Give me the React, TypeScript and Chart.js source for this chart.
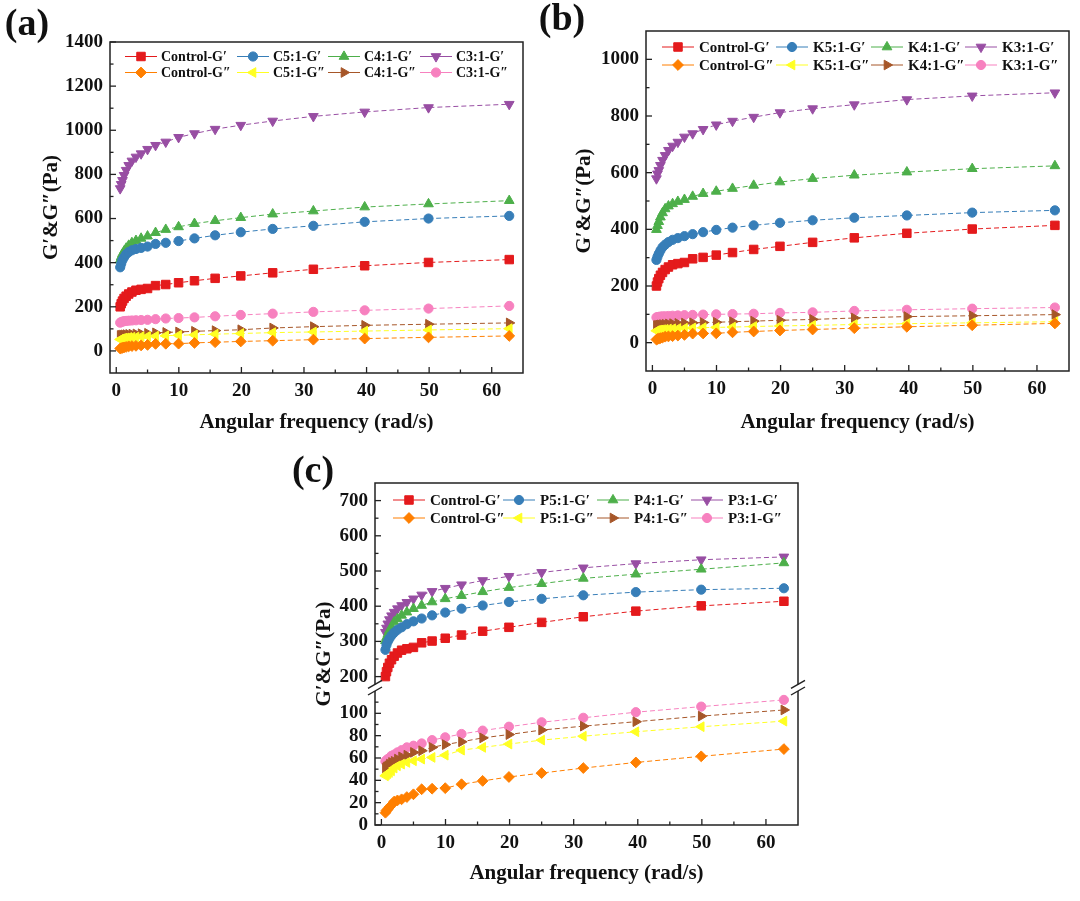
import React, { useEffect, useRef } from 'react';
import { Chart, registerables } from 'chart.js';

Chart.register(...registerables);

// ---------------- data ----------------
const FREQ = [0.628, 0.791, 0.996, 1.25, 1.58, 1.99, 2.5, 3.15, 3.97, 5.0, 6.28, 7.91, 9.96, 12.5, 15.8, 19.9, 25.0, 31.5, 39.7, 49.9, 62.8];

const X_TICKS = [0, 10, 20, 30, 40, 50, 60];
const A_Y_TICKS = [0, 200, 400, 600, 800, 1000, 1200, 1400];
const B_Y_TICKS = [0, 200, 400, 600, 800, 1000];
const C_HI_TICKS = [200, 300, 400, 500, 600, 700];
const C_LO_TICKS = [0, 20, 40, 60, 80, 100];

const CONTROL_GP = [200, 214, 226, 238, 248, 258, 267, 275, 279, 283, 296, 301, 309, 318, 329, 340, 354, 370, 386, 401, 414];
const CONTROL_GPP = [11, 13, 14, 16, 18, 21, 22, 23, 25, 27.5, 32, 32.5, 33, 36.5, 39.5, 43, 46.5, 51, 56, 61.5, 68];

const C5_GP = [379, 395, 412, 425, 438, 448, 456, 462, 467, 473, 485, 490, 498, 510, 524, 538, 553, 567, 585, 600, 612];
const C4_GP = [412, 426, 440, 452, 465, 478, 490, 500, 510, 520, 536, 550, 562, 577, 590, 604, 620, 634, 652, 666, 681];
const C3_GP = [736, 755, 773, 796, 819, 841, 861, 879, 894, 914, 932, 947, 968, 985, 1005, 1023, 1042, 1063, 1083, 1103, 1118];
const C5_GPP = [52, 54, 56, 58, 59, 61, 62, 63, 65, 66, 67, 69, 71, 73, 76, 79, 83, 86, 90, 95, 101];
const C4_GPP = [70, 71, 72, 73, 74, 75, 76, 77, 78, 80, 82, 84, 86, 89, 92, 96, 104, 110, 116, 121, 127];
const C3_GPP = [128, 131, 133, 135, 136, 137, 138, 139, 140, 141, 144, 147, 149, 152, 157, 163, 169, 177, 184, 192, 204];

const K5_GP = [292, 303, 314, 325, 337, 346, 355, 363, 369, 376, 383, 390, 398, 406, 414, 423, 432, 441, 449, 459, 467];
const K4_GP = [399, 413, 427, 443, 458, 472, 482, 490, 498, 505, 516, 526, 534, 544, 555, 567, 579, 591, 602, 614, 624];
const K3_GP = [579, 596, 608, 626, 644, 661, 679, 694, 708, 726, 738, 753, 769, 782, 796, 812, 826, 840, 858, 871, 882];
const K5_GPP = [42, 43, 44, 45, 46, 47, 48, 49, 50, 51, 52, 53, 54, 55, 57, 59, 61, 64, 67, 70, 74];
const K4_GPP = [60, 61, 62, 63, 64, 65, 66, 67, 68, 69, 70, 71, 72, 74, 76, 79, 82, 87, 92, 95, 99];
const K3_GPP = [89, 90, 91, 92, 93, 93, 94, 95, 96, 97, 98, 99, 100, 101, 102, 105, 107, 112, 116, 120, 124];

const P5_GP = [276, 290, 300, 308, 317, 325, 333, 340, 349, 357, 365, 374, 382, 393, 402, 412, 421, 431, 440, 447, 451];
const P4_GP = [302, 311, 320, 331, 342, 355, 364, 374, 383, 393, 402, 412, 421, 430, 441, 453, 464, 479, 491, 505, 523];
const P3_GP = [326, 338, 350, 362, 373, 383, 393, 402, 411, 421, 432, 442, 451, 461, 473, 485, 496, 509, 521, 532, 540];
const P5_GPP = [44, 45, 46, 47, 48.5, 51, 53, 54.5, 56, 57.5, 59, 60.5, 62.5, 67, 69.5, 72.5, 76, 79.5, 83.5, 88, 93];
const P4_GPP = [51, 52, 53, 54.5, 56, 57, 59, 61, 62.5, 65, 66.5, 69.5, 72, 74.5, 78, 81, 85, 88.5, 92.5, 97.5, 103];
const P3_GPP = [57, 58, 59, 60, 62, 63, 65, 67, 69.5, 71, 73, 76, 78.5, 81.5, 84.5, 88, 92, 96, 101, 106, 112];

const A_LABELS = ['Control-G′', 'C5:1-G′', 'C4:1-G′', 'C3:1-G′', 'Control-G″', 'C5:1-G″', 'C4:1-G″', 'C3:1-G″'];
const B_LABELS = ['Control-G′', 'K5:1-G′', 'K4:1-G′', 'K3:1-G′', 'Control-G″', 'K5:1-G″', 'K4:1-G″', 'K3:1-G″'];
const C_LABELS = ['Control-G′', 'P5:1-G′', 'P4:1-G′', 'P3:1-G′', 'Control-G″', 'P5:1-G″', 'P4:1-G″', 'P3:1-G″'];

const X_TITLE = 'Angular frequency (rad/s)';
const Y_TITLE = 'G′&G″(Pa)';

// ---------------- styles ----------------
const FONT = "'Liberation Serif', 'Times New Roman', serif";
const SERIES_STYLE = [
  { color: '#E41A1C', style: 'rect', rot: 0, r: 6 },
  { color: '#377EB8', style: 'circle', rot: 0, r: 4.6 },
  { color: '#4DAF4A', style: 'triangle', rot: 0, r: 5.6 },
  { color: '#984EA3', style: 'triangle', rot: 180, r: 5.6 },
  { color: '#FF7F00', style: 'rectRot', rot: 0, r: 5.4 },
  { color: '#FFFF22', style: 'triangle', rot: 270, r: 5.6 },
  { color: '#A65628', style: 'triangle', rot: 90, r: 5.6 },
  { color: '#F781BF', style: 'circle', rot: 0, r: 4.6 },
];

function drawMarker(ctx: CanvasRenderingContext2D, st: any, x: number, y: number) {
  const r = st.r;
  ctx.save();
  ctx.fillStyle = st.color;
  ctx.strokeStyle = st.color;
  ctx.lineWidth = 1;
  ctx.setLineDash([]);
  ctx.beginPath();
  if (st.style === 'circle') {
    ctx.arc(x, y, r, 0, Math.PI * 2);
  } else if (st.style === 'rect') {
    const s = r * Math.SQRT1_2;
    ctx.rect(x - s, y - s, 2 * s, 2 * s);
  } else if (st.style === 'rectRot') {
    ctx.moveTo(x, y - r);
    ctx.lineTo(x + r, y);
    ctx.lineTo(x, y + r);
    ctx.lineTo(x - r, y);
    ctx.closePath();
  } else {
    let a = (st.rot * Math.PI) / 180;
    ctx.moveTo(x + Math.sin(a) * r, y - Math.cos(a) * r);
    a += (2 * Math.PI) / 3;
    ctx.lineTo(x + Math.sin(a) * r, y - Math.cos(a) * r);
    a += (2 * Math.PI) / 3;
    ctx.lineTo(x + Math.sin(a) * r, y - Math.cos(a) * r);
    ctx.closePath();
  }
  ctx.fill();
  ctx.stroke();
  ctx.restore();
}

function minorValues(majors: number[], min: number, max: number) {
  const out: number[] = [];
  if (majors.length < 2) return out;
  const step = majors[1] - majors[0];
  const first = majors[0] - step / 2;
  for (let v = first; v <= majors[majors.length - 1] + step / 2 + 1e-9; v += step) {
    if (v > min && v < max) out.push(v);
  }
  return out;
}

function makePlugin(cfg: any) {
  return {
    id: 'deco',
    afterDraw(chart: any) {
      const ctx: CanvasRenderingContext2D = chart.ctx;
      const ca = chart.chartArea;
      const xs = chart.scales.x;
      ctx.save();
      ctx.strokeStyle = '#222';
      ctx.lineWidth = 1.5;
      ctx.setLineDash([]);

      // frame
      if (!cfg.broken) {
        ctx.strokeRect(ca.left, ca.top, ca.right - ca.left, ca.bottom - ca.top);
      } else {
        const hi = chart.scales.yHi;
        const lo = chart.scales.yLo;
        const yb1 = hi.getPixelForValue(hi.min) - 1;
        const yb2 = lo.getPixelForValue(120);
        ctx.beginPath();
        ctx.moveTo(ca.left, yb1);
        ctx.lineTo(ca.left, ca.top);
        ctx.lineTo(ca.right, ca.top);
        ctx.lineTo(ca.right, yb1);
        ctx.moveTo(ca.left, yb2);
        ctx.lineTo(ca.left, ca.bottom);
        ctx.lineTo(ca.right, ca.bottom);
        ctx.lineTo(ca.right, yb2);
        ctx.stroke();
        // break marks
        ctx.lineWidth = 1.4;
        for (const bx of [ca.left, ca.right]) {
          for (const by of [yb1, yb2]) {
            ctx.beginPath();
            ctx.moveTo(bx - 7, by + 4);
            ctx.lineTo(bx + 7, by - 4);
            ctx.stroke();
          }
        }
      }

      // ticks
      ctx.lineWidth = 1.3;
      const drawY = (sc: any) => {
        const majors = sc.ticks.map((t: any) => t.value);
        for (const v of majors) {
          const py = sc.getPixelForValue(v);
          ctx.beginPath();
          ctx.moveTo(ca.left, py);
          ctx.lineTo(ca.left + 6, py);
          ctx.stroke();
        }
        for (const v of minorValues(majors, sc.min, sc.max)) {
          const py = sc.getPixelForValue(v);
          ctx.beginPath();
          ctx.moveTo(ca.left, py);
          ctx.lineTo(ca.left + 3.5, py);
          ctx.stroke();
        }
      };
      if (cfg.broken) {
        drawY(chart.scales.yHi);
        drawY(chart.scales.yLo);
      } else {
        drawY(chart.scales.y);
      }
      const xm = xs.ticks.map((t: any) => t.value);
      for (const v of xm) {
        const px = xs.getPixelForValue(v);
        ctx.beginPath();
        ctx.moveTo(px, ca.bottom);
        ctx.lineTo(px, ca.bottom - 6);
        ctx.stroke();
      }
      for (const v of minorValues(xm, xs.min, xs.max)) {
        const px = xs.getPixelForValue(v);
        ctx.beginPath();
        ctx.moveTo(px, ca.bottom);
        ctx.lineTo(px, ca.bottom - 3.5);
        ctx.stroke();
      }

      // legend
      ctx.font = `bold ${cfg.legendFont}px ${FONT}`;
      ctx.textBaseline = 'middle';
      ctx.textAlign = 'left';
      for (let i = 0; i < 8; i++) {
        const col = i % 4;
        const row = Math.floor(i / 4);
        const st = SERIES_STYLE[i];
        const lx = ca.left + cfg.legendCols[col];
        const ly = ca.top + cfg.legendRows[row];
        ctx.strokeStyle = st.color;
        ctx.lineWidth = 1;
        ctx.beginPath();
        ctx.moveTo(lx, ly);
        ctx.lineTo(lx + 32, ly);
        ctx.stroke();
        drawMarker(ctx, st, lx + 16, ly);
        ctx.fillStyle = '#111';
        ctx.fillText(cfg.labels[i], lx + cfg.textOff, ly + 1);
      }

      // y title
      ctx.save();
      ctx.translate(cfg.yTitleX, (ca.top + ca.bottom) / 2);
      ctx.rotate(-Math.PI / 2);
      ctx.font = `bold 21px ${FONT}`;
      ctx.fillStyle = '#111';
      ctx.textAlign = 'center';
      ctx.textBaseline = 'middle';
      ctx.fillText(Y_TITLE, 0, 0);
      ctx.restore();

      // panel letter
      ctx.font = `bold 38px ${FONT}`;
      ctx.fillStyle = '#111';
      ctx.textAlign = 'center';
      ctx.textBaseline = 'middle';
      ctx.fillText(cfg.letter, cfg.letterX, cfg.letterY);

      ctx.restore();
    },
  };
}

function buildDatasets(values: number[][], labels: string[], broken: boolean) {
  return values.map((vals, i) => {
    const st = SERIES_STYLE[i];
    const ds: any = {
      label: labels[i],
      data: FREQ.map((f, j) => ({ x: f, y: vals[j] })),
      borderColor: st.color,
      backgroundColor: st.color,
      borderWidth: 1,
      borderDash: [5, 3],
      pointStyle: st.style,
      pointRotation: st.rot,
      pointRadius: st.r,
      pointBorderWidth: 1,
      pointBackgroundColor: st.color,
      pointBorderColor: st.color,
      tension: 0,
      fill: false,
    };
    if (broken) ds.yAxisID = i < 4 ? 'yHi' : 'yLo';
    return ds;
  });
}

const tickFont = { family: FONT, size: 19, weight: 'bold' as const };

function buildConfig(cfg: any): any {
  const xScale = {
    type: 'linear',
    min: -1,
    max: 65,
    afterBuildTicks: (s: any) => {
      s.ticks = X_TICKS.map((v) => ({ value: v }));
    },
    afterFit: (s: any) => {
      s.height = cfg.xHeight;
    },
    grid: { display: false, drawTicks: false },
    border: { display: false },
    ticks: { font: tickFont, color: '#111', padding: 7, maxRotation: 0, autoSkip: false, callback: (v: any) => String(v) },
    title: {
      display: true,
      text: X_TITLE,
      font: { family: FONT, size: 21, weight: 'bold' },
      color: '#111',
      padding: { top: 0, bottom: 15 },
    },
  };
  const yBase = (ticks: number[], min: number, max: number, extra: any = {}) => ({
    type: 'linear',
    position: 'left',
    min,
    max,
    afterBuildTicks: (s: any) => {
      s.ticks = ticks.map((v) => ({ value: v }));
    },
    afterFit: (s: any) => {
      s.width = cfg.yWidth;
    },
    grid: { display: false, drawTicks: false },
    border: { display: false },
    ticks: { font: tickFont, color: '#111', padding: 7, autoSkip: false, callback: (v: any) => String(v) },
    ...extra,
  });
  const scales: any = { x: xScale };
  if (cfg.broken) {
    // lower segment defined first: the layout stacks left axes in reverse order
    scales.yLo = yBase(C_LO_TICKS, 0, 125, { stack: 'c', stackWeight: 139.6 });
    scales.yHi = yBase(C_HI_TICKS, 175, 750, { stack: 'c', stackWeight: 202.4 });
  } else {
    scales.y = yBase(cfg.yTicks, cfg.yMin, cfg.yMax);
  }
  return {
    type: 'line',
    data: { datasets: buildDatasets(cfg.values, cfg.labels, !!cfg.broken) },
    options: {
      responsive: false,
      animation: false,
      events: [],
      layout: { padding: { left: 0, top: cfg.padTop, right: cfg.padRight, bottom: 0 } },
      plugins: { legend: { display: false }, tooltip: { enabled: false } },
      scales,
    },
    plugins: [makePlugin(cfg)],
  };
}

const PANELS: any[] = [
  {
    left: 0, top: 0, w: 540, h: 450,
    yWidth: 110, padTop: 42, padRight: 17, xHeight: 77,
    yMin: -100, yMax: 1400, yTicks: A_Y_TICKS,
    values: [CONTROL_GP, C5_GP, C4_GP, C3_GP, CONTROL_GPP, C5_GPP, C4_GPP, C3_GPP],
    labels: A_LABELS,
    legendCols: [15, 127, 218, 310], legendRows: [14.5, 30.5], textOff: 36, legendFont: 14,
    letter: '(a)', letterX: 27, letterY: 25, yTitleX: 52,
  },
  {
    left: 540, top: 0, w: 540, h: 450,
    yWidth: 106, padTop: 31, padRight: 11, xHeight: 79,
    yMin: -100, yMax: 1100, yTicks: B_Y_TICKS,
    values: [CONTROL_GP, K5_GP, K4_GP, K3_GP, CONTROL_GPP, K5_GPP, K4_GPP, K3_GPP],
    labels: B_LABELS,
    legendCols: [16, 130, 225, 319], legendRows: [16, 34], textOff: 37, legendFont: 15,
    letter: '(b)', letterX: 22, letterY: 20, yTitleX: 45,
  },
  {
    left: 280, top: 450, w: 540, h: 451,
    yWidth: 95, padTop: 33, padRight: 22, xHeight: 76,
    broken: true,
    values: [CONTROL_GP, P5_GP, P4_GP, P3_GP, CONTROL_GPP, P5_GPP, P4_GPP, P3_GPP],
    labels: C_LABELS,
    legendCols: [18, 128, 222, 316], legendRows: [17, 35], textOff: 37, legendFont: 15,
    letter: '(c)', letterX: 33, letterY: 22, yTitleX: 45,
  },
];

function Panel({ cfg }: { cfg: any }) {
  const ref = useRef<HTMLCanvasElement>(null);
  useEffect(() => {
    if (!ref.current) return;
    const chart = new Chart(ref.current, buildConfig(cfg));
    return () => chart.destroy();
  }, [cfg]);
  return (
    <canvas
      ref={ref}
      width={cfg.w}
      height={cfg.h}
      style={{ position: 'absolute', left: cfg.left, top: cfg.top, width: cfg.w, height: cfg.h }}
    />
  );
}

export default function App() {
  return (
    <div style={{ position: 'absolute', left: 0, top: 0, width: 1080, height: 901, background: '#fff', overflow: 'hidden' }}>
      {PANELS.map((p, i) => (
        <Panel key={i} cfg={p} />
      ))}
    </div>
  );
}
